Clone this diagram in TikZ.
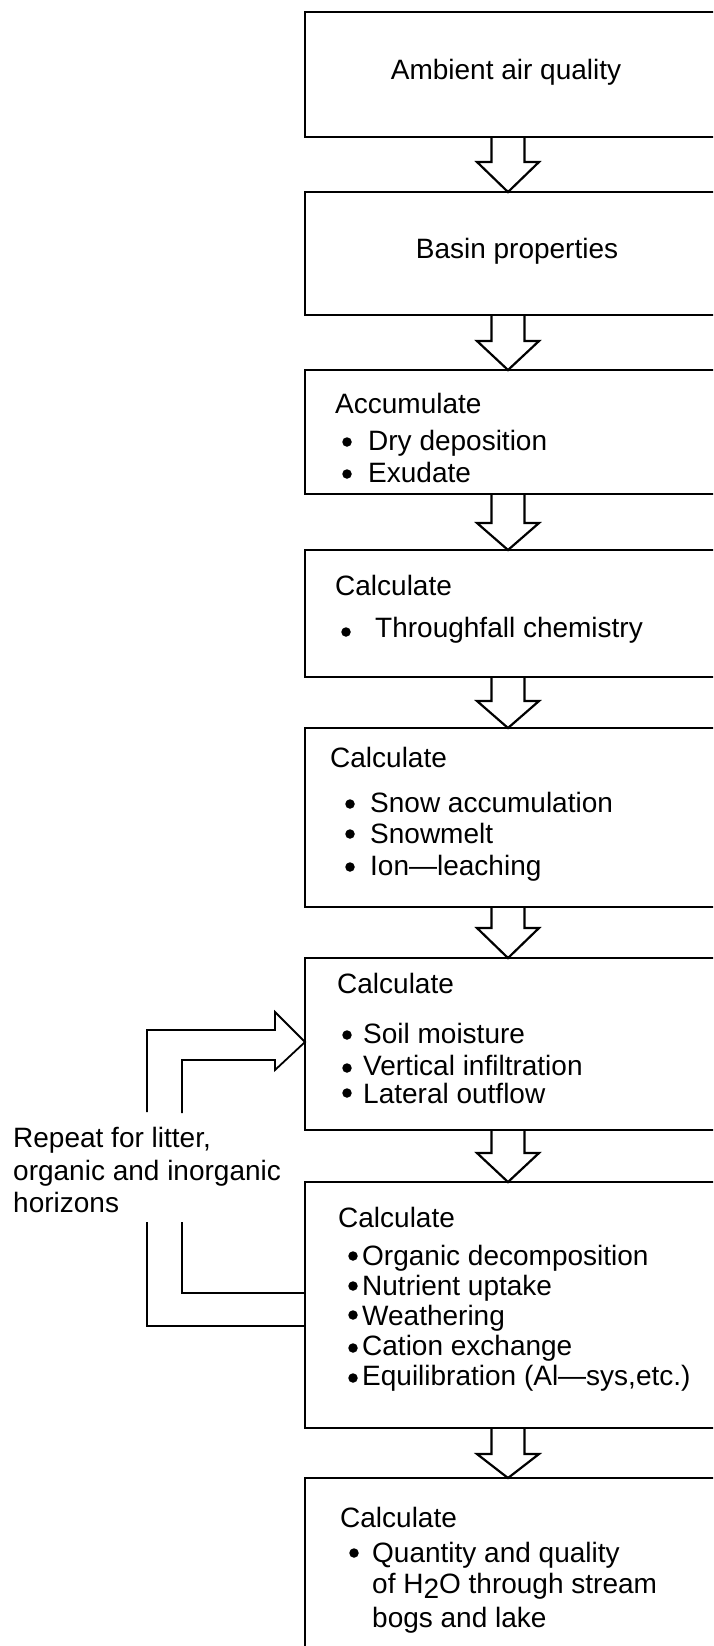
\documentclass[tikz,border=0pt]{standalone}
\usepackage{fontspec}
\setmainfont{Liberation Sans}
\usetikzlibrary{calc}
\tikzset{
  box/.style={draw, line width=2.8pt, anchor=north west, minimum width=440pt, inner sep=0pt, outer sep=0pt},
  txt/.style={anchor=base west, inner sep=0pt, font=\fontsize{28}{31}\selectfont},
  ctxt/.style={anchor=base, inner sep=0pt, font=\fontsize{28}{31}\selectfont},
  dotb/.style={circle, fill=black, inner sep=0pt, minimum size=9.5pt},
  harrow/.style={draw, line width=2.2pt, line join=miter},
  loopline/.style={draw, line width=1.8pt, line join=miter},
}
\newcommand\hollowarrow[3]{%
  \draw[harrow] let \p1=(#1.south west), \p2=(#2.north west) in
    (\x1+186.5pt,\y1) -- (\x1+186.5pt,\y2+#3pt) -- (\x1+172pt,\y2+#3pt) -- (\x1+203pt,\y2)
    -- (\x1+234pt,\y2+#3pt) -- (\x1+219.5pt,\y2+#3pt) -- (\x1+219.5pt,\y1);}
% name, bullet centre x, text x, baseline, bullet height above baseline, text
\newcommand\itemline[6]{%
  \node[dotb] (#1d) at (#2,#4-#5) {};
  \node[txt] (#1) at (#3,#4) {#6};}
\begin{document}
\begin{tikzpicture}[x=1pt,y=-1pt]
\useasboundingbox (0,0) rectangle (713,1646);
\clip (0,0) rectangle (713,1646);
% boxes
\node[box, minimum height=125pt] (b1) at (305,12) {};
\node[box, minimum height=123pt] (b2) at (305,192) {};
\node[box, minimum height=124pt] (b3) at (305,370) {};
\node[box, minimum height=127pt] (b4) at (305,550) {};
\node[box, minimum height=179pt] (b5) at (305,728) {};
\node[box, minimum height=172pt] (b6) at (305,958) {};
\node[box, minimum height=246pt] (b7) at (305,1182) {};
\node[box, minimum height=200pt] (b8) at (305,1478) {};
% texts
\node[ctxt] (t1) at (506,80) {Ambient air quality};
\node[ctxt] (t2) at (517,258) {Basin properties};
\node[txt] (t3a) at (335,413) {Accumulate};
\itemline{t3b}{347}{368}{450}{8}{Dry deposition}
\itemline{t3c}{347}{368}{482}{8}{Exudate}
\node[txt] (t4a) at (335,595) {Calculate};
\itemline{t4b}{346}{375}{637}{5}{Throughfall chemistry}
\node[txt] (t5a) at (330,767) {Calculate};
\itemline{t5b}{350}{370}{812}{8}{Snow accumulation}
\itemline{t5c}{350}{370}{843}{9}{Snowmelt}
\itemline{t5d}{350}{370}{875}{8}{Ion---leaching}
\node[txt] (t6a) at (337,993) {Calculate};
\itemline{t6b}{347}{363}{1043}{8}{Soil moisture}
\itemline{t6c}{347}{363}{1075}{7}{Vertical infiltration}
\itemline{t6d}{347}{363}{1103}{10}{Lateral outflow}
\node[txt] (t7a) at (338,1227) {Calculate};
\itemline{t7b}{353}{362}{1265}{9}{Organic decomposition}
\itemline{t7c}{353}{362}{1295}{9}{Nutrient uptake}
\itemline{t7d}{353}{362}{1325}{10}{Weathering}
\itemline{t7e}{353}{362}{1355}{7}{Cation exchange}
\itemline{t7f}{353}{362}{1385}{7}{Equilibration (Al---sys,etc.)}
\node[txt] (t8a) at (340,1527) {Calculate};
\itemline{t8b}{354}{372}{1562}{9}{Quantity and quality}
\node[txt] (t8c) at (372,1593) {of H\raisebox{-0.35ex}{2}O through stream};
\node[txt] (t8d) at (372,1627) {bogs and lake};
% side label
\node[txt] (r1) at (13,1147) {Repeat for litter,};
\node[txt] (r2) at (13,1180) {organic and inorganic};
\node[txt] (r3) at (13,1212) {horizons};
% hollow arrows
\hollowarrow{b1}{b2}{30}
\hollowarrow{b2}{b3}{29}
\hollowarrow{b3}{b4}{27}
\hollowarrow{b4}{b5}{27}
\hollowarrow{b5}{b6}{30}
\hollowarrow{b6}{b7}{29}
\hollowarrow{b7}{b8}{24}
% feedback loop
\coordinate (oTop) at (147,1112);
\coordinate (iTop) at (182,1113);
\coordinate (oBot) at (147,1222);
\coordinate (iBot) at (182,1222);
\draw[loopline] ($(b7.north west)+(0,111)$) -| (iBot);
\draw[loopline] ($(b7.north west)+(0,144)$) -| (oBot);
\draw[loopline] (oTop) |- ($(b6.north west)+(-30,72)$) -- ++(0,-18)
  -- ($(b6.north west)+(0,84)$) -- ($(b6.north west)+(-30,112)$) -- ++(0,-10) -| (iTop);
\end{tikzpicture}
\end{document}
